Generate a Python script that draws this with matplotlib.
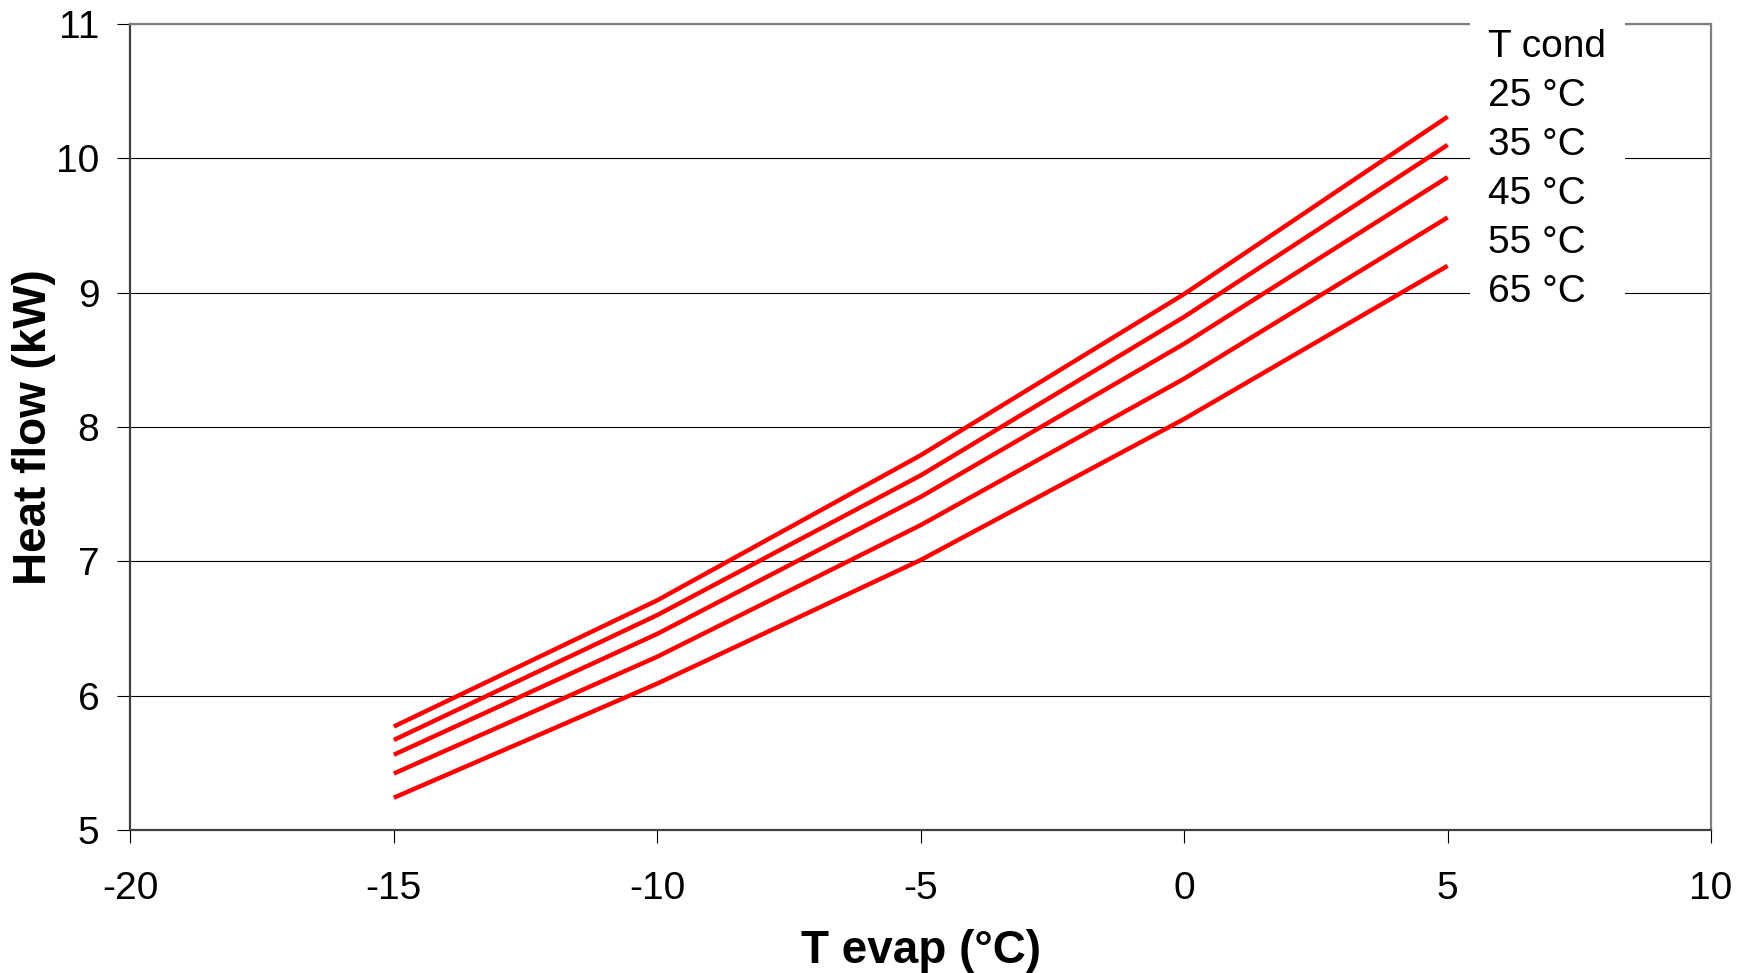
import matplotlib
matplotlib.use("Agg")
import matplotlib.pyplot as plt

plt.rcParams['font.family'] = ['Liberation Sans', 'DejaVu Sans']
plt.rcParams['axes.unicode_minus'] = False

t_evap = [-15, -10, -5, 0, 5]
cond_labels = ["25 °C", "35 °C", "45 °C", "55 °C", "65 °C"]
heat_25 = [5.77, 6.71, 7.79, 8.99, 10.31]
heat_35 = [5.67, 6.60, 7.64, 8.82, 10.10]
heat_45 = [5.56, 6.46, 7.48, 8.62, 9.86]
heat_55 = [5.42, 6.29, 7.27, 8.36, 9.56]
heat_65 = [5.24, 6.09, 7.01, 8.06, 9.20]
series = [heat_25, heat_35, heat_45, heat_55, heat_65]

fig = plt.figure(figsize=(17.48, 9.73), dpi=100)
ax = fig.add_axes([0.0746, 0.1470, 0.9043, 0.8283])

handles = []
for vals, lab in zip(series, cond_labels):
    h, = ax.plot(t_evap, vals, color='#FF0000', lw=3.2, solid_capstyle='butt', zorder=3)
    handles.append(h)

ax.set_xlim(-20, 10)
ax.set_ylim(5, 11)
ax.set_xticks(range(-20, 11, 5))
ax.set_yticks(range(5, 12))

ax.grid(axis='y', color='#000000', lw=0.8)
ax.set_axisbelow(True)

for side in ['left', 'bottom']:
    ax.spines[side].set_color('#404040')
    ax.spines[side].set_linewidth(1.6)
for side in ['top', 'right']:
    ax.spines[side].set_color('#808080')
    ax.spines[side].set_linewidth(1.6)

ax.tick_params(axis='both', direction='out', length=9.4, width=0.8, color='#000000',
               labelsize=28)
ax.tick_params(axis='y', pad=13)
ax.tick_params(axis='x', pad=20)

ax.set_xlabel("T evap (°C)", fontsize=33, fontweight='bold', va='center')
ax.xaxis.set_label_coords(0.5, -0.1497)
ax.set_ylabel("Heat flow (kW)", fontsize=33, fontweight='bold', va='center')
ax.yaxis.set_label_coords(-0.0607, 0.5)

leg = ax.legend(handles, cond_labels, title="T cond", loc='upper left',
                bbox_to_anchor=(0.8472, 1.017), borderaxespad=0, borderpad=0.48,
                handlelength=0, handletextpad=0, labelspacing=0.335,
                fontsize=28, title_fontsize=28, alignment='left',
                frameon=True, fancybox=False, framealpha=1)
leg.get_frame().set_edgecolor('none')
leg.get_frame().set_facecolor('white')
for h in leg.legend_handles:
    h.set_visible(False)

fig.savefig("out.png", dpi=100)
plt.close(fig)
